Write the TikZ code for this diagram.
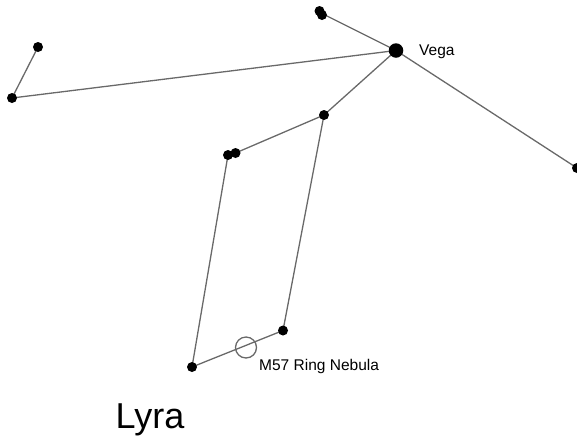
\documentclass[tikz,border=0pt]{standalone}
\usepackage{fontspec}
\setmainfont{Liberation Sans}
\definecolor{linegray}{RGB}{105,105,105}
\begin{document}
\begin{tikzpicture}[x=1pt,y=-1pt,
  starsm/.style={circle,fill=black,inner sep=0pt,minimum size=10pt},
  starbig/.style={circle,fill=black,inner sep=0pt,minimum size=14.5pt},
  conn/.style={draw=linegray,line width=1.3pt},
  lbl/.style={inner sep=0pt,font=\fontsize{15.5}{18}\selectfont}]
\useasboundingbox (0,0) rectangle (577,440);
% connectors first (drawn under stars)
\coordinate (cA) at (38,47);
\coordinate (cB) at (12,98);
\coordinate (cV) at (396,50.5);
\coordinate (cT) at (321,13);
\coordinate (cR) at (577,168);
\coordinate (cM) at (324,115);
\coordinate (cP1) at (228,155);
\coordinate (cP2) at (235.5,153);
\coordinate (cBR) at (283,330.5);
\coordinate (cBL) at (192,367);
\draw[conn] (cA) -- (cB) -- (cV);
\draw[conn] (cT) -- (cV) -- (cR);
\draw[conn] (cV) -- (cM) -- (cP2);
\draw[conn] (cM) -- (cBR) -- (cBL) -- (cP1);
% stars
\node[starsm] (a) at (cA) {};
\node[starsm] (b) at (cB) {};
\node[starbig] (vega) at (cV) {};
\node[starsm] (t1) at (319.5,11) {};
\node[starsm] (t2) at (322,15) {};
\node[starsm] (r) at (cR) {};
\node[starsm] (m) at (cM) {};
\node[starsm] (p1) at (cP1) {};
\node[starsm] (p2) at (cP2) {};
\node[starsm] (br) at (cBR) {};
\node[starsm] (bl) at (cBL) {};
% nebula
\node[circle,draw=linegray,line width=1.3pt,minimum size=21pt,inner sep=0pt] (m57) at (246,347.5) {};
% labels
\node[lbl,anchor=base west] (vegalbl) at (419,55.5) {Vega};
\node[lbl,anchor=base west] (m57lbl) at (259,370) {M57 Ring Nebula};
\node[inner sep=0pt,anchor=base west,font=\fontsize{36}{42}\selectfont] (lyra) at (115.5,428) {Lyra};
\end{tikzpicture}
\end{document}
